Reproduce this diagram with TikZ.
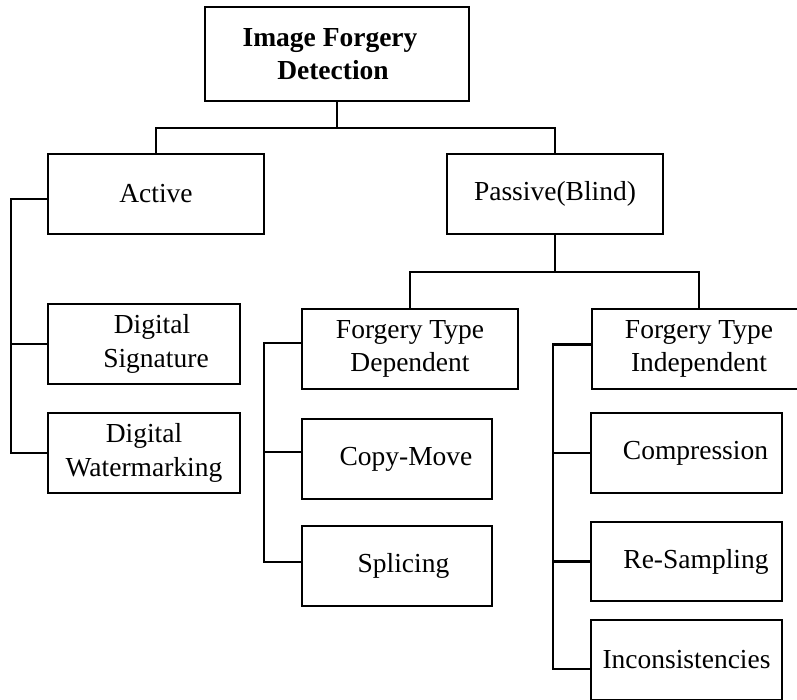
\documentclass[tikz,border=0pt]{standalone}
\usepackage{fontspec}
\setmainfont{Liberation Serif}
\newcommand\gapbox[1]{\hbox to #1{\hfil}}
\tikzset{
  box/.style={draw=black, line width=1.8pt, rectangle, minimum width=#1, minimum height=80pt,
    inner sep=0pt, align=center, font=\fontsize{27.5pt}{33.5pt}\selectfont},
  box/.default=190pt,
  link/.style={draw=black, line width=2.6pt}
}
\begin{document}
\begin{tikzpicture}[x=1pt,y=-1pt]
\useasboundingbox (0,0) rectangle (797,700);
% nodes
\node[box=264pt, minimum height=94pt, font=\fontsize{27.5pt}{33.5pt}\selectfont\bfseries] (top) at (337,54)
  {Image Forgery\gapbox{14pt}\\Detection\gapbox{8pt}};
\node[box=216pt] (active) at (156,194) {Active};
\node[box=216pt] (passive) at (555,194) {Passive(Blind)};
\node[box=192pt] (ds) at (144,344) {\gapbox{16pt}Digital\\\gapbox{24pt}Signature};
\node[box=192pt] (dw) at (144,453) {Digital\\Watermarking};
\node[box=216pt] (dep) at (410,349) {Forgery Type\\Dependent};
\node[box=214pt] (indep) at (699,349) {Forgery Type\\Independent};
\node[box=190pt] (cm) at (397,459) {\gapbox{18pt}Copy-Move};
\node[box=190pt] (sp) at (397,566) {\gapbox{13pt}Splicing};
\node[box=191pt] (comp) at (686.5,453) {\gapbox{18pt}Compression};
\node[box=191pt, minimum height=79pt] (rs) at (686.5,561.5) {\gapbox{19pt}Re-Sampling};
\node[box=191pt] (inc) at (686.5,660) {Inconsistencies};
% connectors
\draw[link] (top.south) -- ++(0,26) -| (active.north);
\draw[link] (top.south) -- ++(0,26) -| (passive.north);
\draw[link] ([yshift=-5pt]active.west) -- ++(-36,0) |- (ds.west);
\draw[link] ([yshift=-5pt]active.west) -- ++(-36,0) |- (dw.west);
\draw[link] (passive.south) -- ++(0,37) -| (dep.north);
\draw[link] (passive.south) -- ++(0,37) -| (indep.north);
\draw[link] ([yshift=6pt]dep.west) -- ++(-37,0) |- ([yshift=7pt]cm.west);
\draw[link] ([yshift=6pt]dep.west) -- ++(-37,0) |- ([yshift=4pt]sp.west);
\draw[link] ([yshift=4.5pt]indep.west) -- ++(-38,0) |- (comp.west);
\draw[link] ([yshift=4.5pt]indep.west) -- ++(-38,0) |- (rs.west);
\draw[link] ([yshift=4.5pt]indep.west) -- ++(-38,0) |- ([yshift=-9pt]inc.west);
\end{tikzpicture}
\end{document}
